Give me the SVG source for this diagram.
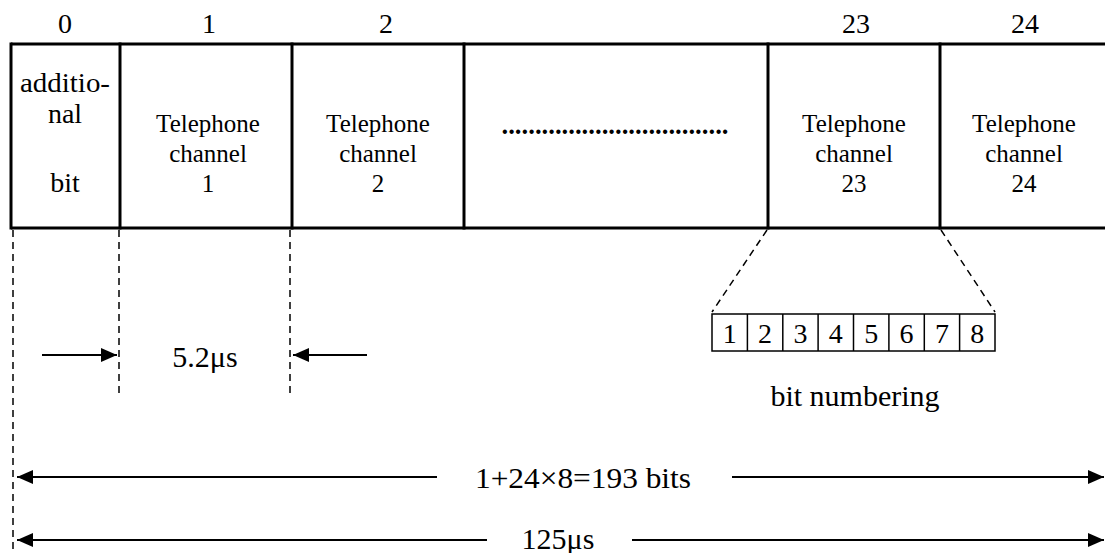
<svg xmlns="http://www.w3.org/2000/svg" width="1105" height="553" viewBox="0 0 1105 553" font-family="'Liberation Serif', 'Times New Roman', 'DejaVu Serif', serif">
<defs>
<style>
text{font-family:'Liberation Serif','Times New Roman','DejaVu Serif',serif;fill:#000;text-anchor:middle}
.lbl{font-size:28px}
.tel{font-size:25px}
.big{font-size:30px}
.frame{stroke:#000;stroke-width:3;fill:none}
.dash{stroke:#000;stroke-width:1.5;stroke-dasharray:7,5;fill:none}
.arr{stroke:#000;stroke-width:2;fill:none}
.cell{stroke:#000;stroke-width:1.5;fill:#fff}
</style>
<marker id="ah" viewBox="0 0 16 14" refX="16" refY="7" markerWidth="16" markerHeight="14" markerUnits="userSpaceOnUse" orient="auto">
<path d="M0,0 L16,7 L0,14 Z" fill="#000"/>
</marker>
</defs>
<rect width="1105" height="553" fill="#fff"/>

<g id="index-labels" font-family="'Liberation Serif', serif">
<text class="lbl" x="65" y="33">0</text>
<text class="lbl" x="209" y="33">1</text>
<text class="lbl" x="386" y="33">2</text>
<text class="lbl" x="856" y="33">23</text>
<text class="lbl" x="1025" y="33">24</text>
</g>

<g id="frame">
<line class="frame" x1="11" y1="44" x2="1105" y2="44"/>
<line class="frame" x1="11" y1="228" x2="1105" y2="228"/>
<line class="frame" x1="11" y1="42.5" x2="11" y2="229.5"/>
<line class="frame" x1="120" y1="42.5" x2="120" y2="229.5"/>
<line class="frame" x1="292" y1="42.5" x2="292" y2="229.5"/>
<line class="frame" x1="464" y1="42.5" x2="464" y2="229.5"/>
<line class="frame" x1="768" y1="42.5" x2="768" y2="229.5"/>
<line class="frame" x1="940" y1="42.5" x2="940" y2="229.5"/>
</g>

<g id="slot-0" font-family="'Liberation Serif', serif">
<text class="lbl" x="65" y="92" textLength="90" lengthAdjust="spacingAndGlyphs">additio-</text>
<text class="lbl" x="65" y="123">nal</text>
<text class="lbl" x="65" y="192">bit</text>
</g>
<g id="slot-1" font-family="'Liberation Serif', serif">
<text class="tel" x="208" y="132">Telephone</text>
<text class="tel" x="208" y="162">channel</text>
<text class="tel" x="208" y="192">1</text>
</g>
<g id="slot-2" font-family="'Liberation Serif', serif">
<text class="tel" x="378" y="132">Telephone</text>
<text class="tel" x="378" y="162">channel</text>
<text class="tel" x="378" y="192">2</text>
</g>
<g id="slot-dots" font-family="'Liberation Serif', serif">
<text x="615" y="134" style="font-size:27px;font-weight:bold" textLength="227" lengthAdjust="spacingAndGlyphs">..................................</text>
</g>
<g id="slot-23" font-family="'Liberation Serif', serif">
<text class="tel" x="854" y="132">Telephone</text>
<text class="tel" x="854" y="162">channel</text>
<text class="tel" x="854" y="192">23</text>
</g>
<g id="slot-24" font-family="'Liberation Serif', serif">
<text class="tel" x="1024" y="132">Telephone</text>
<text class="tel" x="1024" y="162">channel</text>
<text class="tel" x="1024" y="192">24</text>
</g>

<g id="bit-cells" font-family="'Liberation Serif', serif">
<rect class="cell" x="712" y="314" width="283" height="37"/>
<line class="cell" x1="747.4" y1="314" x2="747.4" y2="351"/>
<line class="cell" x1="782.8" y1="314" x2="782.8" y2="351"/>
<line class="cell" x1="818.1" y1="314" x2="818.1" y2="351"/>
<line class="cell" x1="853.5" y1="314" x2="853.5" y2="351"/>
<line class="cell" x1="888.9" y1="314" x2="888.9" y2="351"/>
<line class="cell" x1="924.3" y1="314" x2="924.3" y2="351"/>
<line class="cell" x1="959.6" y1="314" x2="959.6" y2="351"/>
<text class="lbl" x="729.7" y="343">1</text>
<text class="lbl" x="765.1" y="343">2</text>
<text class="lbl" x="800.4" y="343">3</text>
<text class="lbl" x="835.8" y="343">4</text>
<text class="lbl" x="871.2" y="343">5</text>
<text class="lbl" x="906.6" y="343">6</text>
<text class="lbl" x="941.9" y="343">7</text>
<text class="lbl" x="977.3" y="343">8</text>
</g>
<g id="bit-numbering-label" font-family="'Liberation Serif', serif">
<text class="big" x="855" y="406">bit numbering</text>
</g>

<g id="connectors">
<line class="dash" x1="13" y1="230" x2="13" y2="553"/>
<line class="dash" x1="119" y1="230" x2="119" y2="395"/>
<line class="dash" x1="290" y1="230" x2="290" y2="393"/>
<line class="dash" x1="767" y1="230" x2="712" y2="312"/>
<line class="dash" x1="941" y1="230" x2="995" y2="312"/>
<line class="arr" x1="42" y1="355" x2="117" y2="355" marker-end="url(#ah)"/>
<line class="arr" x1="367" y1="355" x2="293" y2="355" marker-end="url(#ah)"/>
<line class="arr" x1="437" y1="477" x2="17" y2="477" marker-end="url(#ah)"/>
<line class="arr" x1="732" y1="477" x2="1104" y2="477" marker-end="url(#ah)"/>
<line class="arr" x1="487" y1="540" x2="17" y2="540" marker-end="url(#ah)"/>
<line class="arr" x1="632" y1="540" x2="1104" y2="540" marker-end="url(#ah)"/>
</g>

<g id="dimension-labels" font-family="'Liberation Serif', serif">
<text class="big" x="205" y="367">5.2μs</text>
<text class="big" x="583" y="488" textLength="216" lengthAdjust="spacingAndGlyphs">1+24×8=193 bits</text>
<text class="big" x="558" y="549">125μs</text>
</g>
</svg>
